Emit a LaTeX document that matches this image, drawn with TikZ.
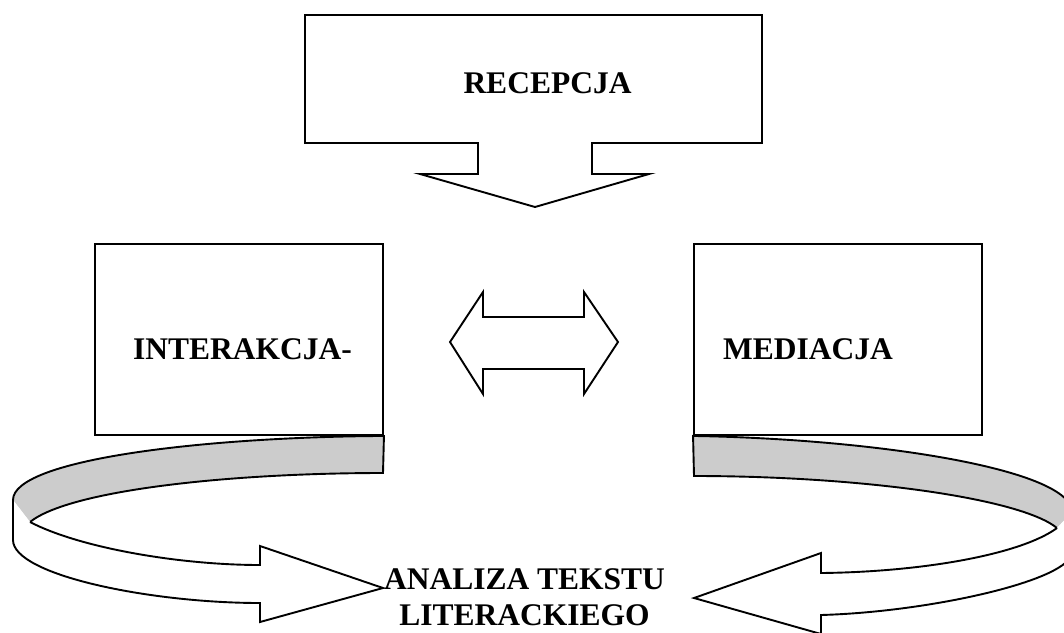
\documentclass[tikz,border=0pt]{standalone}
\usepackage{fontspec}
\setmainfont{Liberation Serif}
\tikzstyle{every node}=[font=\fontsize{31.5}{36}\selectfont\bfseries]
\tikzstyle{outline} = [line width=1.9pt,line join=miter]
\tikzstyle{panel} = [outline,draw,minimum width=288pt,minimum height=191pt]
\tikzstyle{ribbon back} = [outline,fill=black!20]
\tikzstyle{ribbon front} = [outline,fill=white]

\begin{document}
\begin{tikzpicture}[x=1pt,y=-1pt]
\useasboundingbox (0,0) rectangle (1064,632);
\clip (0,0) rectangle (1064,632);

% boxes
\draw[outline] (305,15) -- (762,15) -- (762,143) -- (592,143) -- (592,174) -- (649,174)
	-- (535,207) -- (420,174) -- (478,174) -- (478,143) -- (305,143) -- cycle;
\node[panel] (interakcja box) at (239,339.5) {};
\node[panel] (mediacja box) at (838,339.5) {};

% labels
\node[anchor=base] (recepcja) at (547.5,93) {RECEPCJA};
\node[anchor=base] (interakcja) at (242.5,359) {INTERAKCJA-};
\node[anchor=base] (mediacja) at (808,359) {MEDIACJA};
\node[anchor=base,align=center] (analiza) at (524.5,625) {ANALIZA TEKSTU\\LITERACKIEGO};

% double arrow
\draw[outline] (450,342) -- (483,292) -- (483,317) -- (584,317) -- (584,292) -- (618,342)
	-- (584,394) -- (584,369) -- (483,369) -- (483,394) -- cycle;

% left ribbon
\draw[ribbon back] (30,522) .. controls (70,490) and (230,473) .. (383,473)
	-- (interakcja box.south east) .. controls (200,437) and (13,460) .. (13,500);
\draw[ribbon front] (13,500) -- (13,540) .. controls (13,575) and (150,603) .. (260,603)
	-- (260,622) -- (383,588) -- (260,546) -- (260,565)
	.. controls (180,565) and (80,548) .. (30,522);

% right ribbon
\draw[ribbon back] (1057,528) .. controls (1020,498) and (860,476) .. (694,476)
	-- (mediacja box.south west) .. controls (880,439) and (1072,470) .. (1072,512);
\draw[ribbon front] (1072,512) -- (1072,552) .. controls (1072,580) and (930,612) .. (821,615)
	-- (821,634) -- (694,598) -- (821,553) -- (821,573)
	.. controls (920,572) and (1020,555) .. (1057,528);

\end{tikzpicture}
\end{document}
